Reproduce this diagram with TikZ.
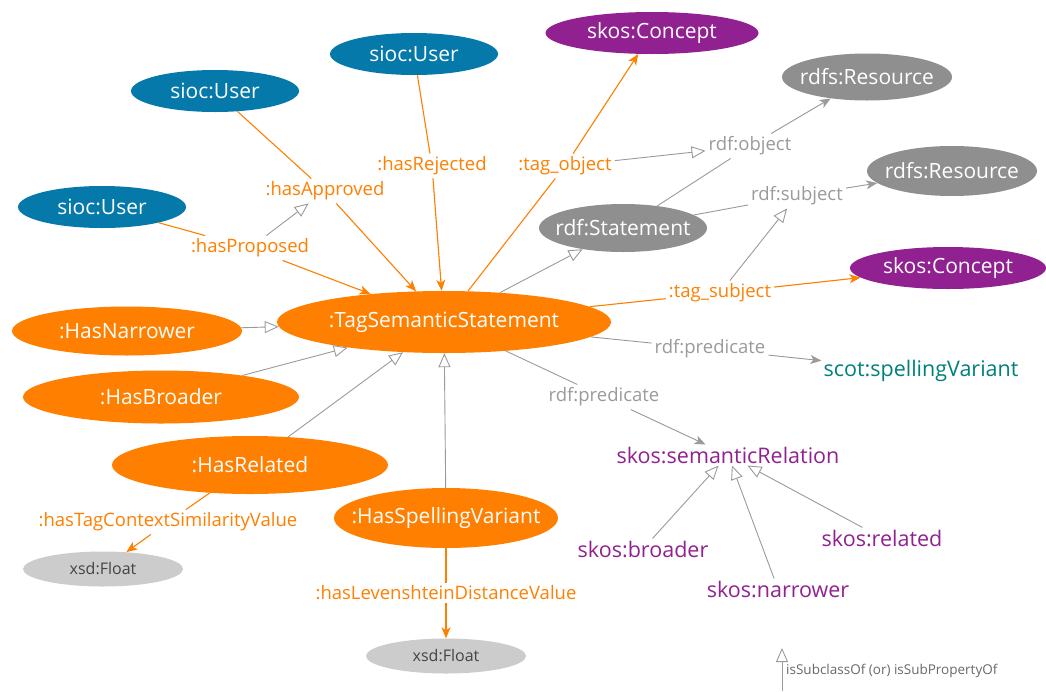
\documentclass[tikz,border=0pt]{standalone}
\usepackage{fontspec}
\setmainfont{Open Sans}
\definecolor{ontoBlue}{HTML}{0479AA}
\definecolor{ontoOrange}{HTML}{FF7F00}
\definecolor{ontoPurple}{HTML}{912191}
\definecolor{ontoGrey}{HTML}{8F8F8F}
\definecolor{ontoLightGrey}{HTML}{CCCCCC}
\definecolor{ontoTeal}{HTML}{00807B}
\definecolor{ontoLine}{HTML}{9A9A9A}
\definecolor{ontoDark}{HTML}{444444}
\usetikzlibrary{arrows.meta, positioning, shapes.geometric}
\tikzset{
    class node/.style={ellipse, fill=#1, text=white, inner xsep=-40pt, inner ysep=0pt, font=\fontsize{21}{24}\selectfont},
    user node/.style={class node=ontoBlue, minimum width=168, minimum height=42},
    concept node/.style={class node=ontoPurple, minimum width=205, minimum height=42},
    rdf node/.style={class node=ontoGrey, minimum width=170, minimum height=47},
    tag node/.style={class node=ontoOrange},
    literal node/.style={ellipse, fill=ontoLightGrey, text=ontoDark, inner xsep=-20pt, inner ysep=0pt, minimum width=160, minimum height=35, font=\fontsize{16}{20}\selectfont},
    term node/.style={text=#1, inner sep=2pt, font=\fontsize{21.5}{24}\selectfont},
    prop label/.style={text=#1, inner sep=3pt, font=\fontsize{18.5}{22}\selectfont},
    prop line/.style={draw=#1, line width=1.1pt},
    prop arrow/.style={-{Stealth[length=11pt, width=9pt, inset=3pt]}, draw=#1, fill=#1, line width=1.1pt},
    subclass arrow/.style={-{Triangle[open, length=14pt, width=12pt]}, draw=ontoLine, line width=0.9pt},
}
\begin{document}
\begin{tikzpicture}[x=1pt, y=-1pt]
    \useasboundingbox (0,0) rectangle (1046,691);

    \node[user node] (userP) at (102,207) {sioc:User};
    \node[user node] (userA) at (215,91) {sioc:User};
    \node[user node] (userR) at (414,54) {sioc:User};
    \node[concept node, minimum width=213] (conceptO) at (652,33) {skos:Concept};
    \node[rdf node] (resO) at (867,77) {rdfs:Resource};
    \node[rdf node, minimum height=50] (resS) at (952,171) {rdfs:Resource};
    \node[rdf node, minimum width=168, minimum height=48] (stmt) at (623,228) {rdf:Statement};
    \node[concept node, minimum width=196] (conceptS) at (948,268) {skos:Concept};
    \node[tag node, minimum width=334, minimum height=62] (tss) at (444,322) {:TagSemanticStatement};
    \node[tag node, minimum width=230, minimum height=49] (narrower) at (127,331) {:HasNarrower};
    \node[tag node, minimum width=276, minimum height=53] (broader) at (161,397) {:HasBroader};
    \node[tag node, minimum width=276, minimum height=58] (related) at (250,465) {:HasRelated};
    \node[tag node, minimum width=224, minimum height=60] (spelling) at (446,518) {:HasSpellingVariant};
    \node[literal node] (floatR) at (103,569) {xsd:Float};
    \node[literal node] (floatS) at (446,656) {xsd:Float};

    \node[term node=ontoTeal] (spellVar) at (921,371) {scot:spellingVariant};
    \node[term node=ontoPurple] (semRel) at (728,455) {skos:semanticRelation};
    \node[term node=ontoPurple] (skosB) at (643,549) {skos:broader};
    \node[term node=ontoPurple] (skosN) at (778,589) {skos:narrower};
    \node[term node=ontoPurple] (skosR) at (882,538) {skos:related};

    \node[prop label=ontoOrange] (hasP) at (250,248) {:hasProposed};
    \node[prop label=ontoOrange] (hasA) at (325,191) {:hasApproved};
    \node[prop label=ontoOrange] (hasR) at (432,166) {:hasRejected};
    \node[prop label=ontoOrange] (tagO) at (565,166) {:tag\_object};
    \node[prop label=ontoOrange] (tagS) at (720,293) {:tag\_subject};
    \node[prop label=ontoOrange] (hasCtx) at (168,522) {:hasTagContextSimilarityValue};
    \node[prop label=ontoOrange] (hasLev) at (446,593) {:hasLevenshteinDistanceValue};
    \node[prop label=ontoLine] (rdfO) at (750,146) {rdf:object};
    \node[prop label=ontoLine] (rdfS) at (797,196) {rdf:subject};
    \node[prop label=ontoLine] (predA) at (710,349) {rdf:predicate};
    \node[prop label=ontoLine] (predB) at (604,397) {rdf:predicate};

    \draw[prop line=ontoOrange] (userP) -- (hasP);
    \draw[prop arrow=ontoOrange] (hasP) -- (tss);
    \draw[prop line=ontoOrange] (userA) -- (hasA);
    \draw[prop arrow=ontoOrange] (hasA) -- (tss);
    \draw[prop line=ontoOrange] (userR) -- (hasR);
    \draw[prop arrow=ontoOrange] (hasR) -- (tss);
    \draw[prop line=ontoOrange] (tss) -- (tagO);
    \draw[prop arrow=ontoOrange] (tagO) -- (conceptO);
    \draw[prop line=ontoOrange] (tss) -- (tagS);
    \draw[prop arrow=ontoOrange] (tagS) -- (conceptS);
    \draw[prop line=ontoOrange] (related) -- (hasCtx);
    \draw[prop arrow=ontoOrange] (hasCtx) -- (floatR);
    \draw[prop line=ontoOrange] (spelling) -- (hasLev);
    \draw[prop arrow=ontoOrange] (hasLev) -- (floatS);

    \draw[prop line=ontoLine, line width=0.9pt] (stmt) -- (rdfO);
    \draw[prop arrow=ontoLine, line width=0.9pt] (rdfO) -- (resO);
    \draw[prop line=ontoLine, line width=0.9pt] (stmt) -- (rdfS);
    \draw[prop arrow=ontoLine, line width=0.9pt] (rdfS) -- (resS);
    \draw[prop line=ontoLine, line width=0.9pt] (tss) -- (predA);
    \draw[prop arrow=ontoLine, line width=0.9pt] (predA) -- (spellVar);
    \draw[prop line=ontoLine, line width=0.9pt] (tss) -- (predB);
    \draw[prop arrow=ontoLine, line width=0.9pt] (predB) -- (semRel);

    \draw[subclass arrow] (hasP) -- (hasA);
    \draw[subclass arrow] (tagO) -- (rdfO);
    \draw[subclass arrow] (tagS) -- (rdfS);
    \draw[subclass arrow] (tss) -- (stmt);
    \draw[subclass arrow] (narrower) -- (tss);
    \draw[subclass arrow] (broader) -- (tss);
    \draw[subclass arrow] (related) -- (tss);
    \draw[subclass arrow] (spelling) -- (tss);
    \draw[subclass arrow] (skosB) -- (semRel);
    \draw[subclass arrow] (skosN) -- (semRel);
    \draw[subclass arrow] (skosR) -- (semRel);

    \coordinate (legendBot) at (782,691);
    \coordinate (legendTop) at (782,648);
    \draw[subclass arrow] (legendBot) -- (legendTop);
    \node[anchor=west, inner sep=0pt, text=ontoDark!80, font=\fontsize{13.5}{17}\selectfont] (legendTxt) at (786,671) {isSubclassOf (or) isSubPropertyOf};
\end{tikzpicture}
\end{document}
